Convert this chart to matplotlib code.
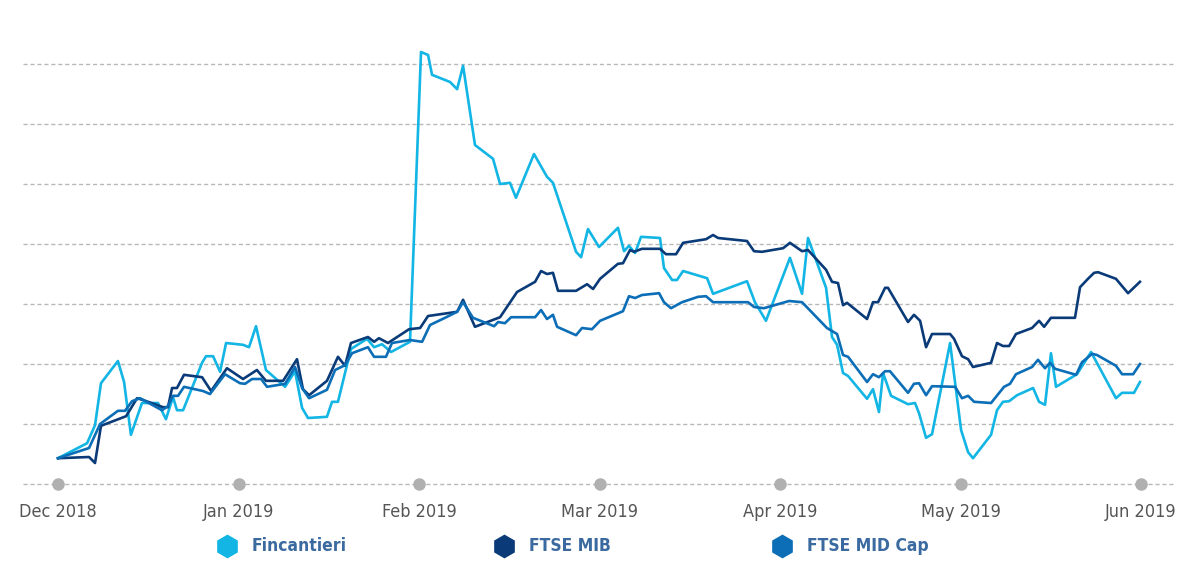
#!/usr/bin/env python3

# Imports
import matplotlib
matplotlib.use('Agg')
import matplotlib.pyplot as plt
from matplotlib.lines import Line2D

# DejaVu Sans Condensed comes closest to the narrow face of the original
plt.rcParams['font.family'] = ['DejaVu Sans']
plt.rcParams['font.stretch'] = 'condensed'

# Month ticks (x is measured in months from 1 Dec 2018, months equally spaced)
month_labels = ['Dec 2018', 'Jan 2019', 'Feb 2019', 'Mar 2019', 'Apr 2019', 'May 2019', 'Jun 2019']
month_pos = [0, 1, 2, 3, 4, 5, 6]

# Fincantieri
fin_x = [0, 0.161, 0.205, 0.238, 0.332, 0.366, 0.404, 0.465, 0.554, 0.598,
         0.637, 0.659, 0.693, 0.798, 0.820, 0.859, 0.898, 0.931, 1.025, 1.058,
         1.097, 1.152, 1.258, 1.313, 1.352, 1.385, 1.490, 1.518, 1.551, 1.590,
         1.623, 1.712, 1.751, 1.795, 1.845, 1.950, 2.011, 2.050, 2.072, 2.172,
         2.211, 2.244, 2.310, 2.410, 2.449, 2.504, 2.537, 2.637, 2.709, 2.742,
         2.870, 2.898, 2.936, 2.997, 3.102, 3.136, 3.163, 3.197, 3.230, 3.335,
         3.357, 3.402, 3.429, 3.463, 3.596, 3.629, 3.817, 3.861, 3.922, 4.055,
         4.122, 4.155, 4.255, 4.288, 4.316, 4.349, 4.377, 4.482, 4.515, 4.548,
         4.571, 4.615, 4.709, 4.748, 4.770, 4.809, 4.842, 4.942, 5.003, 5.042,
         5.069, 5.169, 5.202, 5.235, 5.269, 5.313, 5.402, 5.435, 5.468, 5.501,
         5.529, 5.645, 5.723, 5.861, 5.895, 5.961, 5.994]
fin_y = [4.3, 6.8, 9.8, 16.8, 20.5, 17.0, 8.2, 13.5, 13.5, 10.8,
         14.5, 12.3, 12.3, 20.2, 21.3, 21.3, 18.7, 23.5, 23.2, 22.8,
         26.3, 19.0, 16.2, 18.8, 12.7, 11.0, 11.2, 13.7, 13.7, 18.5,
         22.5, 24.2, 22.8, 23.3, 22.0, 23.7, 72.0, 71.5, 68.2, 67.0,
         65.8, 69.7, 56.5, 54.2, 50.0, 50.2, 47.7, 55.0, 51.2, 50.2,
         38.7, 37.8, 42.5, 39.5, 42.7, 38.8, 39.7, 38.5, 41.2, 41.0,
         36.0, 34.0, 34.0, 35.5, 34.3, 31.7, 33.8, 30.3, 27.2, 37.7,
         31.7, 41.0, 32.7, 24.5, 23.2, 18.5, 18.0, 14.2, 15.8, 12.0,
         18.5, 14.7, 13.3, 13.5, 11.8, 7.7, 8.3, 23.5, 9.0, 5.3,
         4.3, 8.2, 12.3, 13.7, 13.8, 14.8, 16.0, 13.7, 13.2, 21.8,
         16.2, 18.3, 22.0, 14.3, 15.2, 15.2, 17.0]

# FTSE MIB
mib_x = [0, 0.172, 0.205, 0.238, 0.377, 0.438, 0.471, 0.582, 0.609, 0.632,
         0.659, 0.698, 0.798, 0.848, 0.936, 1.025, 1.102, 1.152, 1.247, 1.324,
         1.357, 1.391, 1.490, 1.551, 1.590, 1.623, 1.717, 1.751, 1.778, 1.828,
         1.945, 2.006, 2.050, 2.211, 2.244, 2.310, 2.449, 2.543, 2.643, 2.676,
         2.709, 2.742, 2.770, 2.870, 2.931, 2.964, 3.003, 3.102, 3.130, 3.169,
         3.191, 3.235, 3.335, 3.368, 3.424, 3.463, 3.590, 3.629, 3.657, 3.817,
         3.856, 3.900, 4.017, 4.055, 4.122, 4.155, 4.255, 4.288, 4.321, 4.349,
         4.371, 4.482, 4.515, 4.543, 4.582, 4.598, 4.709, 4.742, 4.776, 4.809,
         4.842, 4.942, 4.964, 5.008, 5.042, 5.069, 5.169, 5.202, 5.235, 5.269,
         5.307, 5.396, 5.435, 5.463, 5.501, 5.634, 5.662, 5.706, 5.740, 5.762,
         5.861, 5.928, 5.994]
mib_y = [4.3, 4.5, 3.5, 9.7, 11.3, 14.3, 14.0, 12.8, 12.8, 16.0,
         16.0, 18.2, 17.8, 15.5, 19.3, 17.5, 19.0, 17.2, 17.2, 20.8,
         15.8, 14.8, 17.2, 21.2, 19.7, 23.5, 24.5, 23.7, 24.3, 23.5,
         25.8, 26.0, 28.0, 28.7, 30.7, 26.2, 27.8, 32.0, 33.7, 35.5,
         35.0, 35.2, 32.2, 32.2, 33.3, 32.5, 34.2, 36.7, 36.8, 39.0,
         38.7, 39.2, 39.2, 38.3, 38.3, 40.2, 40.8, 41.5, 41.0, 40.5,
         38.8, 38.7, 39.3, 40.2, 38.8, 39.0, 35.7, 33.7, 33.5, 29.8,
         30.2, 27.5, 30.3, 30.3, 32.7, 32.7, 27.0, 28.2, 27.2, 22.8,
         25.0, 25.0, 24.2, 21.3, 20.8, 19.5, 20.2, 23.5, 23.0, 23.0,
         25.0, 26.0, 27.2, 26.2, 27.7, 27.7, 32.8, 34.2, 35.2, 35.3,
         34.2, 31.8, 33.7]

# FTSE MID Cap
mid_x = [0, 0.172, 0.233, 0.332, 0.371, 0.410, 0.454, 0.576, 0.609, 0.637,
         0.665, 0.698, 0.803, 0.842, 0.925, 1.008, 1.036, 1.075, 1.125, 1.158,
         1.258, 1.313, 1.352, 1.391, 1.490, 1.535, 1.590, 1.629, 1.717, 1.751,
         1.817, 1.850, 1.950, 2.017, 2.061, 2.144, 2.211, 2.244, 2.299, 2.416,
         2.438, 2.476, 2.510, 2.643, 2.676, 2.709, 2.742, 2.765, 2.870, 2.903,
         2.958, 3.003, 3.130, 3.163, 3.197, 3.235, 3.330, 3.357, 3.396, 3.457,
         3.546, 3.590, 3.629, 3.823, 3.856, 3.911, 4.050, 4.122, 4.260, 4.316,
         4.349, 4.377, 4.482, 4.515, 4.548, 4.582, 4.609, 4.709, 4.742, 4.770,
         4.809, 4.842, 4.970, 5.008, 5.042, 5.075, 5.169, 5.241, 5.274, 5.307,
         5.396, 5.429, 5.468, 5.496, 5.524, 5.640, 5.673, 5.729, 5.756, 5.861,
         5.895, 5.956, 5.994]
mid_y = [4.3, 6.0, 10.0, 12.2, 12.2, 13.8, 14.3, 12.3, 13.0, 14.7,
         14.7, 16.2, 15.5, 15.0, 18.3, 16.8, 16.7, 17.5, 17.5, 16.2,
         16.7, 19.5, 16.0, 14.3, 15.7, 19.0, 19.8, 21.8, 22.8, 21.2,
         21.2, 23.5, 24.0, 23.7, 26.5, 27.7, 28.7, 30.3, 27.7, 26.3,
         27.0, 26.8, 27.8, 27.8, 29.0, 27.5, 28.2, 26.2, 24.8, 26.0,
         25.8, 27.2, 28.8, 31.3, 31.0, 31.5, 31.8, 30.3, 29.3, 30.3,
         31.2, 31.3, 30.3, 30.3, 29.5, 29.3, 30.5, 30.3, 26.0, 25.0,
         21.5, 21.2, 17.0, 18.3, 17.8, 18.8, 18.8, 15.2, 16.7, 16.8,
         14.8, 16.3, 16.2, 14.3, 14.7, 13.7, 13.5, 16.2, 16.7, 18.3,
         19.5, 20.7, 19.3, 20.2, 19.2, 18.2, 20.3, 21.7, 21.5, 19.7,
         18.3, 18.3, 20.0]

series_names = ['Fincantieri', 'FTSE MIB', 'FTSE MID Cap']
series_colors = ['#12b5e4', '#0a3b78', '#0b6eb6']

# Creating the figure and setting up the axes
fig = plt.figure(figsize=(12.04, 5.63), dpi=100, facecolor='w')
ax = fig.add_axes([0.0191, 0.1403, 0.9568, 0.7993])

ax.plot(fin_x, fin_y, color=series_colors[0], lw=1.9, zorder=3)
ax.plot(mib_x, mib_y, color=series_colors[1], lw=1.9, zorder=4)
ax.plot(mid_x, mid_y, color=series_colors[2], lw=1.9, zorder=5)

ax.set_xlim(-0.194, 6.188)
ax.set_ylim(0, 75)

# Dashed horizontal grid, no y labels
for v in range(0, 80, 10):
    ax.axhline(v, color='#b8b8b8', lw=1.0, ls=(0, (3, 2)), zorder=1, clip_on=False)

# Grey dots on the baseline at each month
ax.plot(month_pos, [0] * len(month_pos), 'o', color='#b0b0b0', ms=8,
        clip_on=False, zorder=2)

ax.set_xticks(month_pos)
ax.set_xticklabels(month_labels, fontsize=13, color='#555555')
ax.tick_params(axis='x', length=0, pad=14)
ax.set_yticks([])
for s in ax.spines.values():
    s.set_visible(False)

# Legend: hexagon marker and bold label for each series, laid out by hand
legend_x = [0.1885, 0.4186, 0.6495]   # marker centres, figure fraction
for name, c, lx in zip(series_names, series_colors, legend_x):
    fig.add_artist(Line2D([lx], [0.030], marker='h', ls='none', ms=16,
                          color=c, mec=c, transform=fig.transFigure))
    fig.text(lx + 0.0205, 0.030, name, fontsize=12.5, fontweight='bold',
             color='#3b6aa0', va='center', ha='left')

fig.savefig('out.png', dpi=100)
